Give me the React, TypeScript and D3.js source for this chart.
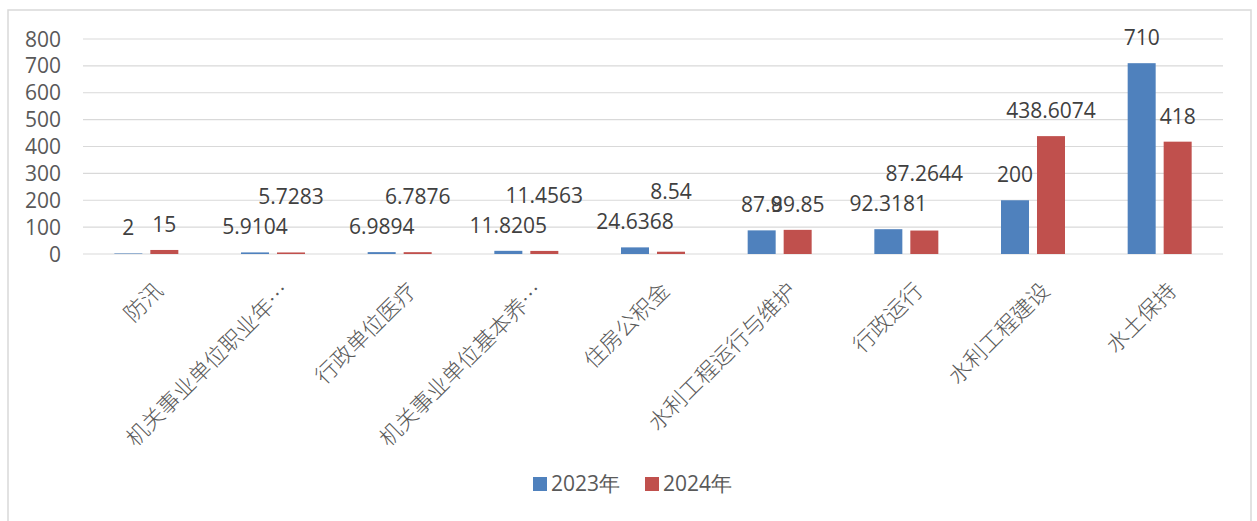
// @ts-nocheck
import React from 'react';
import * as d3 from 'd3';

const categories = [
    '防汛',
    '机关事业单位职业年…',
    '行政单位医疗',
    '机关事业单位基本养…',
    '住房公积金',
    '水利工程运行与维护',
    '行政运行',
    '水利工程建设',
    '水土保持'
];
const seriesNames = ['2023年', '2024年'];
const values2023 = [2, 5.9104, 6.9894, 11.8205, 24.6368, 87.9, 92.3181, 200, 710];
const values2024 = [15, 5.7283, 6.7876, 11.4563, 8.54, 89.85, 87.2644, 438.6074, 418];
const yTicks = [0, 100, 200, 300, 400, 500, 600, 700, 800];

const colors = ['#4f81bd', '#c0504d'];
const textColor = '#595959';
const gridColor = '#d9d9d9';
const numFont = '"Open Sans", "Liberation Sans", sans-serif';
const cjkFont = '"Noto Sans CJK SC", sans-serif';
const fs = 21;

// rough width of a number label, used to decide when the 2024 label has to move up
function labelWidth(s) {
    let w = 0;
    for (const ch of s) w += ch === '.' ? 0.27 * fs : 0.572 * fs;
    return w;
}

export default function App() {
    const W = 1257;
    const H = 521;
    const plot = { left: 83, right: 1223, top: 39, bottom: 254 };

    const x = d3.scaleBand()
        .domain(categories)
        .range([plot.left, plot.right]);

    const bw = x.bandwidth();
    const x1 = d3.scaleBand()
        .domain(seriesNames)
        .range([bw * 0.2474, bw * 0.7526])
        .paddingInner(0.222);

    const y = d3.scaleLinear()
        .domain([0, 800])
        .range([plot.bottom, plot.top]);

    const series = [values2023, values2024];

    // label positions: 18px above bar top, lifted one line when two labels collide
    const labels = [];
    categories.forEach((c, i) => {
        const a = {
            text: String(values2023[i]),
            cx: x(c) + x1(seriesNames[0]) + x1.bandwidth() / 2,
            by: y(values2023[i]) - 18
        };
        const b = {
            text: String(values2024[i]),
            cx: x(c) + x1(seriesNames[1]) + x1.bandwidth() / 2,
            by: y(values2024[i]) - 18
        };
        const overlap = (labelWidth(a.text) + labelWidth(b.text)) / 2 - (b.cx - a.cx);
        if (overlap > 15 && Math.abs(a.by - b.by) < 20) b.by = a.by - 30;
        labels.push(a, b);
    });

    return (
        <svg width={W} height={H} style={{ position: 'absolute', left: 0, top: 0 }}>
            <rect x={0} y={0} width={W} height={H} fill="white" />
            <rect x={8} y={10} width={1243} height={530} fill="white" stroke={gridColor} strokeWidth={1.5} />

            {yTicks.map((t) => (
                <g key={t}>
                    <line x1={plot.left} x2={plot.right} y1={y(t)} y2={y(t)} stroke={gridColor} strokeWidth={1.2} />
                    <text x={61} y={y(t)} dy="0.36em" textAnchor="end"
                        fontFamily={numFont} fontSize={fs} fill={textColor}>{t}</text>
                </g>
            ))}

            {series.map((vals, s) => (
                <g key={s} fill={colors[s]}>
                    {categories.map((c, i) => (
                        <rect key={c}
                            x={x(c) + x1(seriesNames[s])}
                            y={y(vals[i])}
                            width={x1.bandwidth()}
                            height={y(0) - y(vals[i])} />
                    ))}
                </g>
            ))}

            {labels.map((l, i) => (
                <text key={i} x={l.cx} y={l.by} textAnchor="middle"
                    fontFamily={numFont} fontSize={fs} fill="#404040">{l.text}</text>
            ))}

            {categories.map((c) => (
                <text key={c}
                    transform={`translate(${x(c) + bw / 2 + 11}, ${plot.bottom + 31}) rotate(-45)`}
                    textAnchor="end" dominantBaseline="central"
                    fontFamily={cjkFont} fontWeight={300} fontSize={22} fill={textColor}>{c}</text>
            ))}

            {seriesNames.map((n, s) => (
                <g key={n} transform={`translate(${533 + s * 112}, 477)`}>
                    <rect width={14} height={14} fill={colors[s]} />
                    <text x={18} y={14} fontFamily={numFont} fontSize={fs} fill={textColor}>{n}</text>
                </g>
            ))}
        </svg>
    );
}
